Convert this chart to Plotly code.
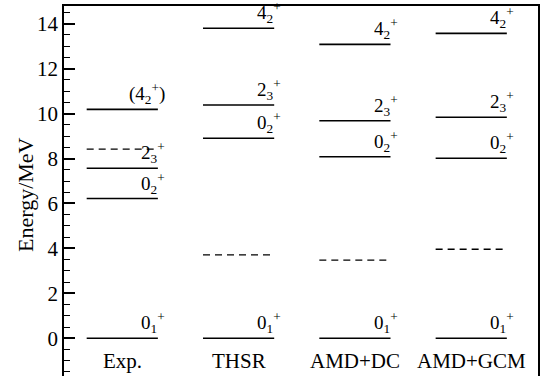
import plotly.graph_objects as go

categories = ["Exp.", "THSR", "AMD+DC", "AMD+GCM"]
level_labels = {
    "Exp.": ["0<sub>1</sub><sup>+</sup>", "0<sub>2</sub><sup>+</sup>", "2<sub>3</sub><sup>+</sup>", "(4<sub>2</sub><sup>+</sup>)"],
    "THSR": ["0<sub>1</sub><sup>+</sup>", "0<sub>2</sub><sup>+</sup>", "2<sub>3</sub><sup>+</sup>", "4<sub>2</sub><sup>+</sup>"],
    "AMD+DC": ["0<sub>1</sub><sup>+</sup>", "0<sub>2</sub><sup>+</sup>", "2<sub>3</sub><sup>+</sup>", "4<sub>2</sub><sup>+</sup>"],
    "AMD+GCM": ["0<sub>1</sub><sup>+</sup>", "0<sub>2</sub><sup>+</sup>", "2<sub>3</sub><sup>+</sup>", "4<sub>2</sub><sup>+</sup>"],
}
exp_levels = [0.0, 6.22, 7.57, 10.19]
thsr_levels = [0.0, 8.90, 10.38, 13.80]
amd_dc_levels = [0.0, 8.08, 9.68, 13.08]
amd_gcm_levels = [0.0, 8.01, 9.84, 13.57]
dashed_levels = [8.42, 3.71, 3.48, 3.96]

solid = {"Exp.": exp_levels, "THSR": thsr_levels, "AMD+DC": amd_dc_levels, "AMD+GCM": amd_gcm_levels}

HALF = 0.306
FONT = "Liberation Serif"

fig = go.Figure()
annotations = []
for i, cat in enumerate(categories):
    for lab, e in zip(level_labels[cat], solid[cat]):
        fig.add_trace(go.Scatter(x=[i - HALF, i + HALF], y=[e, e], mode="lines",
                                 line=dict(color="black", width=1.6), showlegend=False,
                                 hoverinfo="skip"))
        annotations.append(dict(x=i + HALF, y=e, xref="x", yref="y", text=lab,
                                showarrow=False, xanchor="right", yanchor="bottom",
                                xshift=9, yshift=0,
                                font=dict(family=FONT, size=19, color="black")))
    d = dashed_levels[i]
    fig.add_trace(go.Scatter(x=[i - HALF, i + HALF - 0.02], y=[d, d], mode="lines",
                             line=dict(color="black", width=1.4, dash="7px,5px"),
                             showlegend=False, hoverinfo="skip"))
    annotations.append(dict(x=i, y=0, xref="x", yref="paper", text=cat, showarrow=False,
                            xanchor="center", yanchor="bottom", yshift=1,
                            font=dict(family=FONT, size=21, color="black")))

annotations.append(dict(x=0, y=0.5, xref="paper", yref="paper", text="Energy/MeV",
                        textangle=-90, showarrow=False, xanchor="center", yanchor="middle",
                        xshift=-39, yshift=-4,
                        font=dict(family=FONT, size=22, color="black")))

fig.update_layout(
    width=541, height=376,
    margin=dict(l=64, r=3, t=6, b=0),
    paper_bgcolor="white", plot_bgcolor="white",
    font=dict(family=FONT, color="black"),
    annotations=annotations,
    xaxis=dict(range=[-0.501, 3.574], showgrid=False, zeroline=False, showticklabels=False,
               ticks="", showline=True, linecolor="black", linewidth=1.6, side="top"),
    yaxis=dict(range=[-1.68, 14.79], showgrid=False, zeroline=False, dtick=2, tick0=0,
               ticks="inside", ticklen=11, tickwidth=1.5, tickcolor="black",
               showline=True, mirror=True, linecolor="black", linewidth=1.6,
               tickfont=dict(family=FONT, size=21, color="black"),
               minor=dict(dtick=0.5, tick0=0, ticks="inside", ticklen=6, tickwidth=1.2,
                          tickcolor="black", showgrid=False)),
)
fig.write_html("out.html", config={"displayModeBar": False},
               post_script="document.body.style.margin='0';document.body.style.overflow='hidden';")
